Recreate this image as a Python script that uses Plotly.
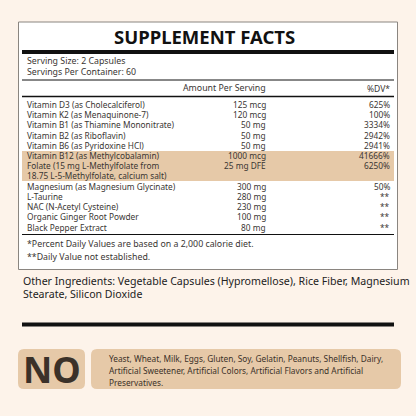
import plotly.graph_objects as go

# Label data
nutrients = [
    "Vitamin D3 (as Cholecalciferol)",
    "Vitamin K2 (as Menaquinone-7)",
    "Vitamin B1 (as Thiamine Mononitrate)",
    "Vitamin B2 (as Riboflavin)",
    "Vitamin B6 (as Pyridoxine HCl)",
    "Vitamin B12 (as Methylcobalamin)",
    "Folate (15 mg L-Methylfolate from",
    "18.75 L-5-Methylfolate, calcium salt)",
    "Magnesium (as Magnesium Glycinate)",
    "L-Taurine",
    "NAC (N-Acetyl Cysteine)",
    "Organic Ginger Root Powder",
    "Black Pepper Extract",
]
amounts = ["125 mcg", "120 mcg", "50 mg", "50 mg", "50 mg", "1000 mcg", "25 mg DFE", "",
           "300 mg", "280 mg", "230 mg", "100 mg", "80 mg"]
dv = ["625%", "100%", "3334%", "2942%", "2941%", "41666%", "6250%", "",
      "50%", "**", "**", "**", "**"]
row_y = [104, 114, 124.5, 135, 145, 155, 165, 175.5, 186, 196, 206, 216.5, 227]

no_items = ["Yeast, Wheat, Milk, Eggs, Gluten, Soy, Gelatin, Peanuts, Shellfish, Dairy,",
            "Artificial Sweetener, Artificial Colors, Artificial Flavors and Artificial",
            "Preservatives."]

BG = "#fdf3ea"
TAN = "#e6c9a8"
FONT = "Noto Sans, sans-serif"

fig = go.Figure()
ann = []
shapes = []

def text(x, y, s, size=8.3, anchor="left", color="#3a3633", bold=False):
    ann.append(dict(x=x, y=y, text=f"<b>{s}</b>" if bold else s, showarrow=False,
                    xanchor=anchor, yanchor="middle", font=dict(size=size, color=color, family=FONT)))

def line(x0, x1, y, w, color="#111"):
    shapes.append(dict(type="line", x0=x0, x1=x1, y0=y, y1=y, line=dict(color=color, width=w)))

def rrect(x0, y0, x1, y1, r, color):
    p = (f"M {x0+r},{y0} L {x1-r},{y0} Q {x1},{y0} {x1},{y0+r} L {x1},{y1-r} Q {x1},{y1} {x1-r},{y1} "
         f"L {x0+r},{y1} Q {x0},{y1} {x0},{y1-r} L {x0},{y0+r} Q {x0},{y0} {x0+r},{y0} Z")
    shapes.append(dict(type="path", path=p, fillcolor=color, line=dict(width=0), layer="below"))

# panel box and highlight band
shapes.append(dict(type="rect", x0=18.5, x1=397.5, y0=22, y1=269.5,
                   line=dict(color="#8a8580", width=1), fillcolor="white", layer="below"))
shapes.append(dict(type="rect", x0=22, x1=394, y0=151, y1=181, fillcolor=TAN,
                   line=dict(width=0), layer="below"))

text(204, 36, "SUPPLEMENT FACTS", size=18.5, anchor="center", color="#111", bold=True)
line(22, 394, 52, 4)
text(25, 61, "Serving Size: 2 Capsules", size=8.8)
text(25, 71.5, "Servings Per Container: 60", size=8.8)
line(22, 394, 80, 1)
text(268, 88, "Amount Per Serving", size=8.8, anchor="right")
text(392, 88, "%DV*", size=8.5, anchor="right")
line(22, 394, 96.5, 1.5)

for n, a, d, y in zip(nutrients, amounts, dv, row_y):
    text(25, y, n)
    text(268, y, a, anchor="right")
    text(392, y, d, anchor="right")

line(22, 394, 234.5, 1)
text(25, 244, "*Percent Daily Values are based on a 2,000 calorie diet.", size=8.8)
text(25, 257, "**Daily Value not established.", size=8.8)

text(21, 281, "Other Ingredients: Vegetable Capsules (Hypromellose), Rice Fiber, Magnesium", size=10.6, color="#222")
text(21, 294, "Stearate, Silicon Dioxide", size=10.6, color="#222")

line(22, 394, 324.5, 4)

rrect(18, 349, 85, 389, 6, TAN)
rrect(91, 349, 401, 389, 6, TAN)
text(52, 369.5, "NO", size=36, anchor="center", color="#3b3129", bold=True)
for s, y in zip(no_items, [358, 370, 382]):
    text(107, y, s, size=8.3, color="#3b3129")

fig.update_layout(
    width=416, height=416, margin=dict(l=0, r=0, t=0, b=0),
    paper_bgcolor=BG, plot_bgcolor=BG, showlegend=False,
    xaxis=dict(range=[0, 416], visible=False, fixedrange=True),
    yaxis=dict(range=[416, 0], visible=False, fixedrange=True),
    annotations=ann, shapes=shapes,
)
fig.write_html("out.html", config={"displayModeBar": False},
               post_script="document.body.style.margin='0';document.body.style.background='" + BG + "';")
